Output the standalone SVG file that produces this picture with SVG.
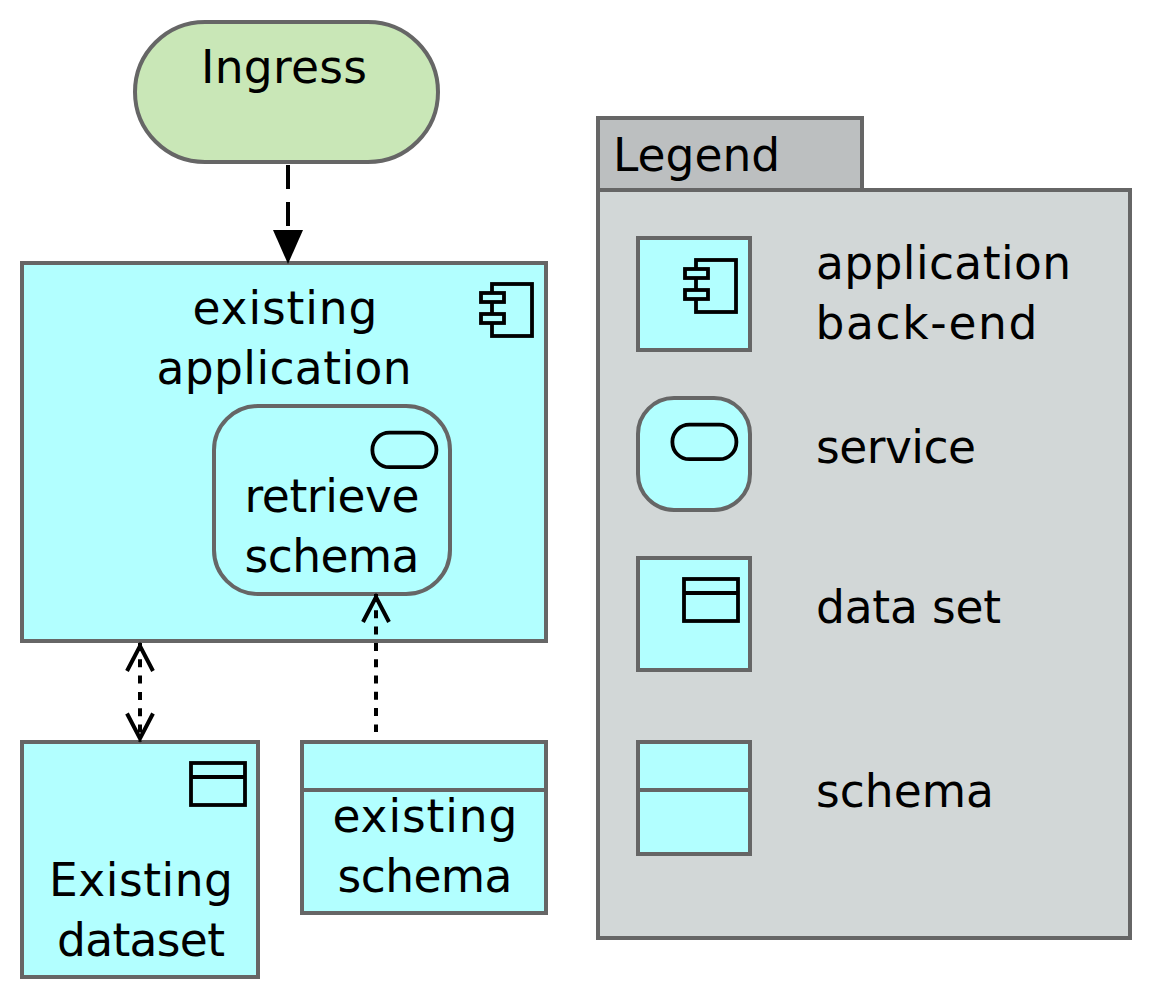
<svg xmlns="http://www.w3.org/2000/svg" width="1156" height="1004" viewBox="0 0 1156 1004">
<style>
text{font-family:"DejaVu Sans","Liberation Sans",sans-serif;font-size:45.5px;fill:#000;text-anchor:middle}
text.l{text-anchor:start}
.n{fill:#b2ffff;stroke:#666;stroke-width:4}
.i{fill:none;stroke:#000;stroke-width:3.8}
.f{fill:#b2ffff;stroke:#000;stroke-width:3.8}
.c{fill:none;stroke:#000;stroke-width:4}
</style>
<defs>
<marker id="open" markerUnits="userSpaceOnUse" markerWidth="34" markerHeight="34" refX="33" refY="15" viewBox="0 0 34 30" orient="auto-start-reverse" overflow="visible"><path d="M5 2L30 15L5 28" fill="none" stroke="#000" stroke-width="4"/></marker>
<g id="comp"><rect x="12" y="1" width="40" height="52" class="i"/><rect x="1" y="10" width="23" height="9" class="f"/><rect x="1" y="31" width="23" height="9" class="f"/></g>
<g id="data"><rect x="0" y="0" width="54" height="42" class="i"/><line x1="0" y1="14" x2="54" y2="14" class="i"/></g>
<rect id="svc" x="0.4" y="0.7" width="64" height="34.5" rx="17" class="i"/>
</defs>
<g id="ingress"><rect x="135" y="22" width="303" height="140" rx="70" fill="#c9e7b7" stroke="#666" stroke-width="4"/><text x="284" y="83" textLength="166">Ingress</text></g>
<g id="existing-application"><rect x="22" y="263" width="524" height="378" class="n"/><use href="#comp" x="480" y="283"/><text x="285" y="324" textLength="185">existing</text><text x="284" y="384" textLength="255">application</text></g>
<g id="retrieve-schema"><rect x="214" y="406" width="236" height="188" rx="44" class="n"/><use href="#svc" x="372" y="432"/><text x="332" y="512" textLength="175">retrieve</text><text x="332" y="572" textLength="175">schema</text></g>
<g id="existing-dataset"><rect x="22" y="742" width="236" height="235" class="n"/><use href="#data" x="191" y="763"/><text x="141" y="896" textLength="184">Existing</text><text x="141" y="956" textLength="168">dataset</text></g>
<g id="existing-schema"><rect x="302" y="742" width="244" height="171" class="n"/><line x1="302" y1="790" x2="546" y2="790" stroke="#666" stroke-width="4"/><text x="425" y="832" textLength="185">existing</text><text x="425" y="892" textLength="175">schema</text></g>
<g id="connectors">
<path d="M288 165V228" class="c" stroke-dasharray="24 13"/>
<path d="M288 264L273 230H303Z" fill="#000"/>
<path d="M140 643V741.5" class="c" stroke-dasharray="8 8.3" marker-start="url(#open)" marker-end="url(#open)"/>
<path d="M376 594V732" class="c" stroke-dasharray="8 8.3" marker-start="url(#open)"/>
</g>
<g id="legend">
<rect x="598" y="118" width="264" height="72" fill="#bcbfc0" stroke="#666" stroke-width="4"/>
<rect x="598" y="190" width="532" height="748" fill="#d2d7d7" stroke="#666" stroke-width="4"/>
<text class="l" x="613" y="171">Legend</text>
<rect x="638" y="238" width="112" height="112" class="n"/><use href="#comp" x="684" y="259"/>
<text class="l" x="816" y="279" textLength="255">application</text><text class="l" x="815.5" y="339" textLength="222">back-end</text>
<rect x="638" y="398" width="112" height="112" rx="36" class="n"/><use href="#svc" x="672" y="424"/>
<text class="l" x="816" y="463" textLength="160">service</text>
<rect x="638" y="558" width="112" height="112" class="n"/><use href="#data" x="684" y="579"/>
<text class="l" x="816" y="623" textLength="185">data set</text>
<rect x="638" y="742" width="112" height="112" class="n"/><line x1="638" y1="790" x2="750" y2="790" stroke="#666" stroke-width="4"/>
<text class="l" x="816" y="807" textLength="178">schema</text>
</g>
</svg>
